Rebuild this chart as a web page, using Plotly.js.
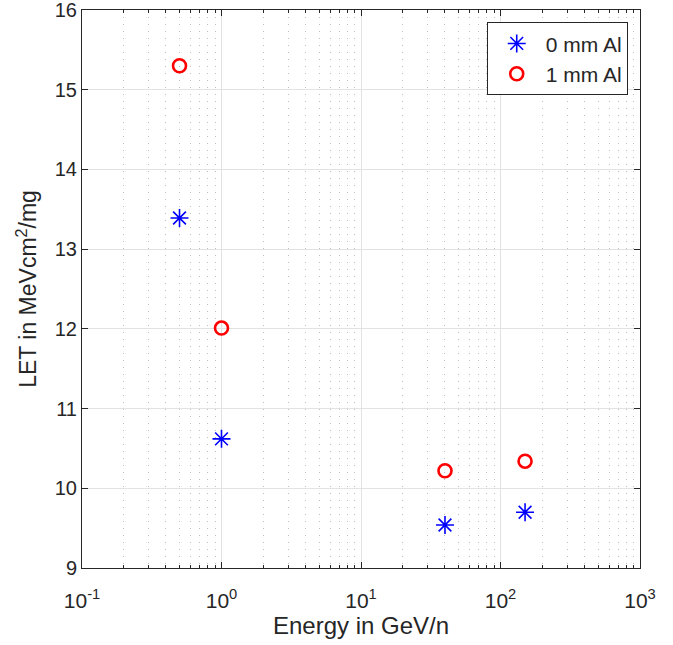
<!DOCTYPE html>
<html><head><meta charset="utf-8">
<script src="https://cdn.plot.ly/plotly-3.0.1.min.js"></script>
<style>html,body{margin:0;padding:0;background:#fff}#chart{width:673px;height:645px}</style>
</head><body><div id="chart"></div>
<script>
const energy = [0.5, 1, 40, 150];
const let0mm = [13.39, 10.62, 9.54, 9.70];
const let1mm = [15.30, 12.01, 10.22, 10.34];
const seriesNames = ["0 mm Al", "1 mm Al"];
const xTickVals = [0.1, 1, 10, 100, 1000];
const xTickText = ["10<sup>-1</sup>", "10<sup>0</sup>", "10<sup>1</sup>", "10<sup>2</sup>", "10<sup>3</sup>"];
const yTickVals = [9, 10, 11, 12, 13, 14, 15, 16];

const minorVals = [];
for (let d = -1; d <= 2; d++) for (let k = 2; k <= 9; k++) minorVals.push(k * Math.pow(10, d));

const axisCol = '#262626';
const font = {family: 'Liberation Sans, Arial, sans-serif', color: axisCol};

const traces = [
  {x: energy, y: let0mm, name: seriesNames[0], mode: 'markers', type: 'scatter',
   marker: {symbol: 'asterisk-open', size: 15, color: '#0000ff', line: {color: '#0000ff', width: 1.6}}},
  {x: energy, y: let1mm, name: seriesNames[1], mode: 'markers', type: 'scatter',
   marker: {symbol: 'circle-open', size: 13, color: '#ff0000', line: {color: '#ff0000', width: 2.6}}}
];

const layout = {
  width: 673, height: 645,
  margin: {l: 82, r: 33, t: 10, b: 77},
  paper_bgcolor: '#fff', plot_bgcolor: '#fff',
  font: Object.assign({size: 21}, font),
  showlegend: true,
  legend: {x: 0.978, y: 0.978, xanchor: 'right', yanchor: 'top',
           bgcolor: '#fff', bordercolor: axisCol, borderwidth: 1,
           font: Object.assign({size: 21}, font), tracegroupgap: 0, itemwidth: 48},
  xaxis: {
    type: 'log', range: [-1, 3],
    tickmode: 'array', tickvals: xTickVals, ticktext: xTickText,
    tickfont: Object.assign({size: 21}, font),
    ticks: 'inside', ticklen: 6, tickcolor: axisCol, ticklabelstandoff: 14,
    showline: true, linecolor: axisCol, linewidth: 1, mirror: 'ticks',
    showgrid: true, gridcolor: '#e2e2e2', gridwidth: 1, zeroline: false,
    minor: {tickmode: 'array', tickvals: minorVals, ticks: 'inside', ticklen: 3, tickcolor: axisCol,
            showgrid: true, gridcolor: '#bdbdbd', griddash: '1px,6px', gridwidth: 1},
    title: {text: 'Energy in GeV/n', font: Object.assign({size: 24}, font), standoff: 3}
  },
  yaxis: {
    range: [9, 16], tickmode: 'array', tickvals: yTickVals,
    tickfont: Object.assign({size: 20}, font), ticklabeloverflow: 'allow',
    ticks: 'inside', ticklen: 6, tickcolor: axisCol,
    showline: true, linecolor: axisCol, linewidth: 1, mirror: 'ticks',
    showgrid: true, gridcolor: '#e2e2e2', gridwidth: 1, zeroline: false,
    title: {text: 'LET in MeVcm<sup>2</sup>/mg', font: Object.assign({size: 23}, font), standoff: 11}
  }
};

Plotly.newPlot('chart', traces, layout, {displayModeBar: false, staticPlot: true});
</script></body></html>
